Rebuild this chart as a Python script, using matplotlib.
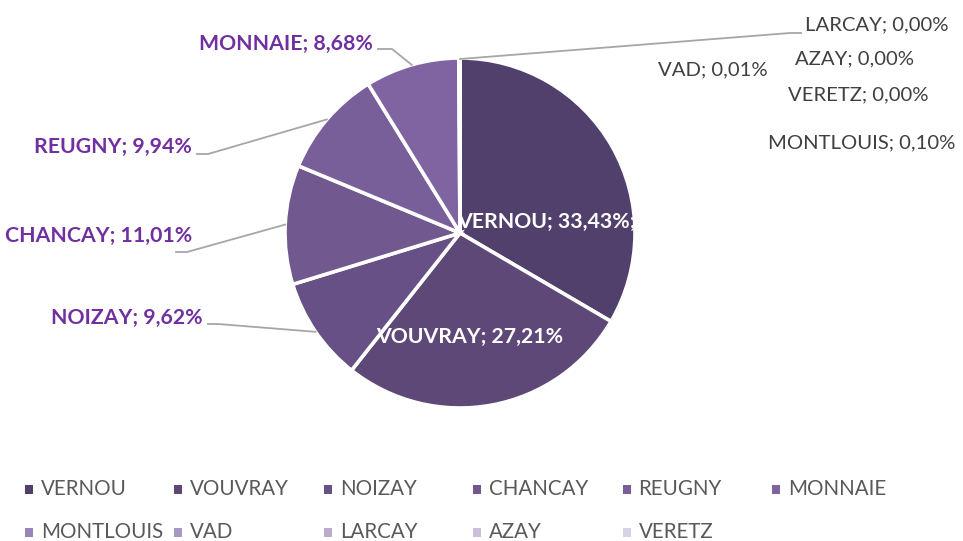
import numpy as np
import matplotlib.pyplot as plt
from matplotlib.patches import Rectangle

plt.rcParams['font.family'] = ['Lato', 'DejaVu Sans']

categories = ["VERNOU", "VOUVRAY", "NOIZAY", "CHANCAY", "REUGNY", "MONNAIE",
              "MONTLOUIS", "VAD", "LARCAY", "AZAY", "VERETZ"]
shares = [33.43, 27.21, 9.62, 11.01, 9.94, 8.68, 0.10, 0.01, 0.00, 0.00, 0.00]
colors = ["#52406c", "#5d4878", "#675085", "#71598f", "#795f9a", "#8064a2",
          "#9a85b8", "#a797c3", "#b9acd0", "#cac0dc", "#d9d2e6"]

W, H = 963, 541
fig = plt.figure(figsize=(W / 100, H / 100), dpi=100)
ax = fig.add_axes([0, 0, 1, 1])
cx, cy, R = 460, 233, 175
ax.pie(shares, colors=colors, startangle=90, counterclock=False,
       center=(cx, H - cy), radius=R,
       wedgeprops=dict(edgecolor='white', linewidth=2.6))
ax.set_xlim(0, W)
ax.set_ylim(0, H)
ax.set_aspect('equal')
ax.axis('off')


def fmt(name, v):
    return f"{name}; {v:.2f}".replace('.', ',') + '%'


total = sum(shares)
cum = np.cumsum([0] + shares[:-1]) / total
mids = cum + np.array(shares) / total / 2


def edge_point(i):
    th = 2 * np.pi * mids[i]
    return cx + R * np.sin(th), cy - R * np.cos(th)


PURPLE = "#7030a0"
GRAY = "#404040"
LINE = "#a6a6a6"

# label layout: (x, y, ha) in pixel coords, y from top
outside = {
    "NOIZAY": (203, 318, 'right', [(208, 324), (218, 324)]),
    "CHANCAY": (192, 236, 'right', [(176, 252), (187, 252)]),
    "REUGNY": (192, 147, 'right', [(197, 154), (208, 154)]),
    "MONNAIE": (373, 44, 'right', [(378, 49), (392, 49)]),
}
for name, (x, y, ha, elbow) in outside.items():
    i = categories.index(name)
    ax.text(x, H - y, fmt(name, shares[i]), ha=ha, va='center',
            color=PURPLE, fontsize=15.3, fontweight='bold')
    ex, ey = edge_point(i)
    pts = elbow + [(ex, ey)]
    ax.plot([p[0] for p in pts], [H - p[1] for p in pts], color=LINE, lw=1.3,
            zorder=3)

inside = {
    "VERNOU": (546, 222, ';'),
    "VOUVRAY": (470, 337, ''),
}
for name, (x, y, suffix) in inside.items():
    i = categories.index(name)
    ax.text(x, H - y, fmt(name, shares[i]) + suffix, ha='center', va='center',
            color='white', fontsize=15.3, fontweight='bold')

small = {
    "LARCAY": (805, 25),
    "AZAY": (795, 59),
    "VAD": (658, 70),
    "VERETZ": (788, 95),
    "MONTLOUIS": (768, 143),
}
for name, (x, y) in small.items():
    i = categories.index(name)
    ax.text(x, H - y, fmt(name, shares[i]), ha='left', va='center',
            color=GRAY, fontsize=14.6)

# leader for LARCAY (zero wedge at top)
i = categories.index("LARCAY")
ex, ey = edge_point(i)
pts = [(ex, ey + 1), (790, 33), (801, 33)]
ax.plot([p[0] for p in pts], [H - p[1] for p in pts], color=LINE, lw=1.3)

# legend
for k, name in enumerate(categories):
    row, col = divmod(k, 6)
    x0 = 25 + col * 149.4
    y0 = 489 + row * 43
    ax.add_patch(Rectangle((x0, H - y0 - 4.5), 8, 9, facecolor=colors[k],
                           edgecolor='none'))
    ax.text(x0 + 16, H - y0, name, ha='left', va='center', color="#595959",
            fontsize=14.8)

fig.savefig("out.png", dpi=100)
